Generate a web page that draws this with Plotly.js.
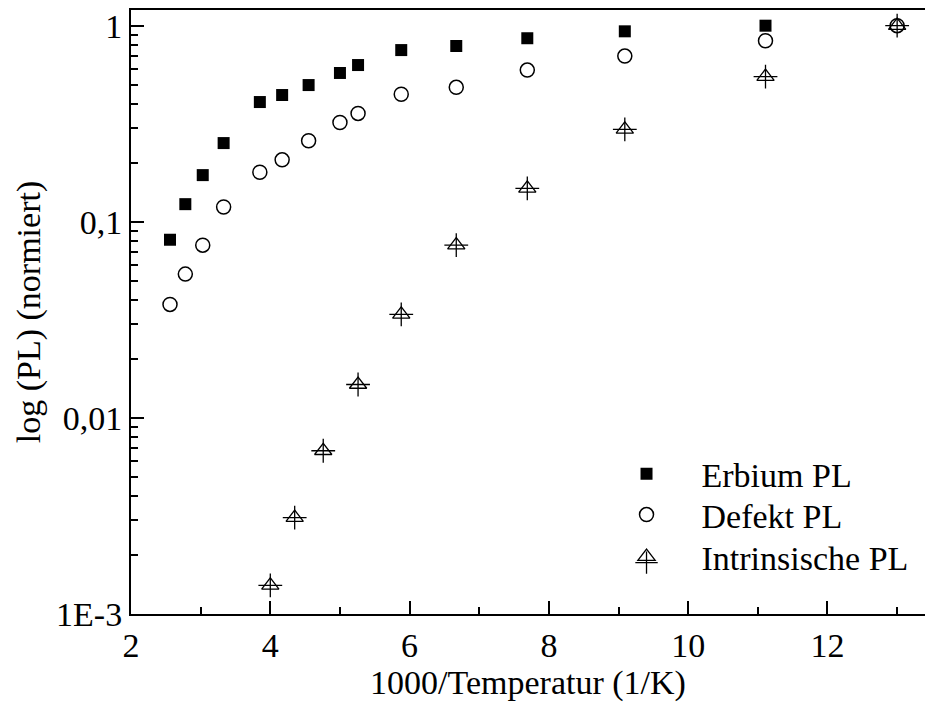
<!DOCTYPE html>
<html>
<head>
<meta charset="utf-8">
<script src="https://cdn.plot.ly/plotly-3.0.1.min.js"></script>
<style>html,body{margin:0;padding:0;background:#fff;}#chart{width:925px;height:704px;}</style>
</head>
<body>
<div id="chart"></div>
<script>
// 1000/T values (1/K)
const xErbium = [2.56, 2.78, 3.03, 3.33, 3.85, 4.17, 4.55, 5.0, 5.26, 5.88, 6.67, 7.69, 9.09, 11.11];
const yErbium = [0.081, 0.123, 0.173, 0.252, 0.408, 0.443, 0.498, 0.574, 0.63, 0.751, 0.788, 0.863, 0.936, 1.0];

const xDefekt = [2.56, 2.78, 3.03, 3.33, 3.85, 4.17, 4.55, 5.0, 5.26, 5.88, 6.67, 7.69, 9.09, 11.11, 13.0];
const yDefekt = [0.0379, 0.0541, 0.076, 0.119, 0.179, 0.207, 0.259, 0.321, 0.357, 0.447, 0.485, 0.594, 0.70, 0.838, 1.0];

const xIntr = [4.0, 4.35, 4.76, 5.26, 5.88, 6.67, 7.69, 9.09, 11.11, 13.0];
const yIntr = [0.0014, 0.0031, 0.0068, 0.0148, 0.0337, 0.076, 0.148, 0.296, 0.55, 1.0];

const seriesNames = ['Erbium PL', 'Defekt PL', 'Intrinsische PL'];
const yTickVals = [0.001, 0.01, 0.1, 1];
const yTickText = ['1E-3', '0,01', '0,1', '1'];
const xTitle = '1000/Temperatur (1/K)';
const yTitle = 'log (PL) (normiert)';

const yMinor = [];
for (let e = -3; e <= 0; e++) for (let m = 2; m <= 9; m++) yMinor.push(m * Math.pow(10, e));

const FONT = 'Liberation Serif';
const FS = 34;

const traces = [
  {x: xErbium, y: yErbium, name: seriesNames[0], type: 'scatter', mode: 'markers', legend: 'legend',
   marker: {symbol: 'square', size: 12, color: '#000'}},
  {x: xDefekt, y: yDefekt, name: seriesNames[1], type: 'scatter', mode: 'markers', legend: 'legend2',
   marker: {symbol: 'circle-open', size: 14, color: '#000', line: {width: 1.5, color: '#000'}}},
  {x: xIntr, y: yIntr, name: seriesNames[2], type: 'scatter', mode: 'markers', legend: 'legend3',
   marker: {symbol: 'triangle-up-open', size: 15, color: '#000', line: {width: 1.3, color: '#000'}}},
  {x: xIntr, y: yIntr, name: ' ', type: 'scatter', mode: 'markers', legend: 'legend4',
   marker: {symbol: 'cross-thin-open', size: 17, color: '#000', line: {width: 1.3, color: '#000'}}}
];

function leg(y, col) {
  return {x: 0.58, y: y, xanchor: 'left', yanchor: 'middle', bgcolor: 'rgba(0,0,0,0)',
          itemwidth: 100, font: {family: FONT, size: FS, color: col || '#000'}};
}

const layout = {
  width: 925, height: 704,
  margin: {l: 131, r: 0, t: 10, b: 90},
  paper_bgcolor: '#fff', plot_bgcolor: '#fff',
  font: {family: FONT, size: FS, color: '#000'},
  showlegend: true,
  legend: leg(0.2317),
  legend2: leg(0.1639),
  legend3: leg(0.0944),
  legend4: leg(0.0844, 'rgba(0,0,0,0)'),
  xaxis: {
    range: [2, 13.4], tickmode: 'linear', tick0: 2, dtick: 2,
    ticks: 'inside', ticklen: 13, tickwidth: 2, tickcolor: '#000',
    showline: true, linewidth: 2, linecolor: '#000', mirror: true,
    showgrid: false, zeroline: false,
    minor: {ticks: 'inside', ticklen: 7, tickwidth: 2, tickcolor: '#000', dtick: 1, tick0: 2},
    tickfont: {family: FONT, size: FS, color: '#000'},
    title: {text: xTitle, font: {family: FONT, size: FS, color: '#000'}, standoff: 6}
  },
  yaxis: {
    type: 'log', range: [-3, 0.08],
    tickmode: 'array', tickvals: yTickVals, ticktext: yTickText,
    ticks: 'inside', ticklen: 13, tickwidth: 2, tickcolor: '#000',
    showline: true, linewidth: 2, linecolor: '#000', mirror: false,
    showgrid: false, zeroline: false,
    minor: {ticks: 'inside', ticklen: 7, tickwidth: 2, tickcolor: '#000', tickmode: 'array', tickvals: yMinor},
    ticklabelstandoff: 0,
    tickfont: {family: FONT, size: FS, color: '#000'},
    title: {text: yTitle, font: {family: FONT, size: FS, color: '#000'}, standoff: 5}
  }
};

Plotly.newPlot('chart', traces, layout, {displayModeBar: false, staticPlot: true});
</script>
</body>
</html>
